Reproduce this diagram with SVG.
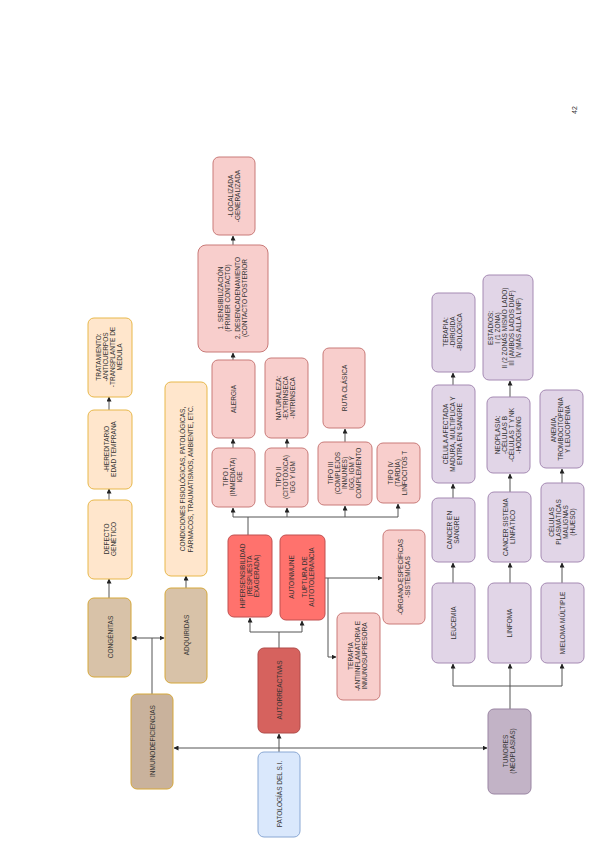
<svg xmlns="http://www.w3.org/2000/svg" width="600" height="848" viewBox="0 0 600 848">
<defs>
<marker id="a" viewBox="0 0 10 10" refX="9" refY="5" markerWidth="5" markerHeight="5" orient="auto"><path d="M0,0 L10,5 L0,10 z" fill="#222"/></marker>
<style>
rect{stroke-width:1}
.pe{fill:#ffe6cc;stroke:#e8b84a}
.tn{fill:#d8c2a8;stroke:#d6a83a}
.tn2{fill:#c9b29c;stroke:#d6a83a}
.pk{fill:#f8cecc;stroke:#c97a78}
.rd{fill:#ff726d;stroke:#c05050}
.dr{fill:#d6625e;stroke:#b04a48}
.bl{fill:#dae8fc;stroke:#8aa8d4}
.pu{fill:#e1d5e7;stroke:#a58ab3}
.tu{fill:#c2b3c6;stroke:#9a85a3}
text{font-family:"Liberation Sans",Arial,sans-serif;font-size:6.5px;fill:#333;text-anchor:middle}
.c path,.c polyline{fill:none;stroke:#555;stroke-width:1}
</style>
</defs>
<text transform="translate(577,110) rotate(-90)" style="font-size:7px">42</text>
<g class="c">
<path d="M109,598 V579" marker-end="url(#a)"/>
<path d="M109,500 V489" marker-end="url(#a)"/>
<path d="M109,410 V397" marker-end="url(#a)"/>
<path d="M186,588 V576" marker-end="url(#a)"/>
<path d="M152,694 V638"/>
<path d="M152,638 H132" marker-end="url(#a)"/>
<path d="M152,638 H164" marker-end="url(#a)"/>
<path d="M279,752 V734" marker-end="url(#a)"/>
<path d="M279,748 H174" marker-end="url(#a)"/>
<path d="M279,748 H487" marker-end="url(#a)"/>
<path d="M279,648 V632 H250 V618" marker-end="url(#a)"/>
<path d="M279,632 H302 V621" marker-end="url(#a)"/>
<path d="M248,535 V517"/>
<path d="M233,517 H398"/>
<path d="M233,517 V508" marker-end="url(#a)"/>
<path d="M287,517 V508" marker-end="url(#a)"/>
<path d="M345,517 V506" marker-end="url(#a)"/>
<path d="M398,517 V504" marker-end="url(#a)"/>
<path d="M233,448 V439" marker-end="url(#a)"/>
<path d="M233,360 V353" marker-end="url(#a)"/>
<path d="M233,245 V236" marker-end="url(#a)"/>
<path d="M287,448 V439" marker-end="url(#a)"/>
<path d="M345,442 V429" marker-end="url(#a)"/>
<path d="M325,578 H382" marker-end="url(#a)"/>
<path d="M328,578 V657 H336" marker-end="url(#a)"/>
<path d="M510,709 V664" marker-end="url(#a)"/>
<path d="M510,686 H453 V664" marker-end="url(#a)"/>
<path d="M510,686 H562 V664" marker-end="url(#a)"/>
<path d="M453,583 V563" marker-end="url(#a)"/>
<path d="M453,498 V484" marker-end="url(#a)"/>
<path d="M453,385 V373" marker-end="url(#a)"/>
<path d="M510,583 V563" marker-end="url(#a)"/>
<path d="M510,492 V474" marker-end="url(#a)"/>
<path d="M510,397 V381" marker-end="url(#a)"/>
<path d="M562,583 V563" marker-end="url(#a)"/>
<path d="M562,483 V469" marker-end="url(#a)"/>
</g>
<g id="tratamiento"><rect class="pe" x="88" y="318" width="44" height="79" rx="6"/><text transform="translate(110,357) rotate(-90)"><tspan x="0" dy="-9">TRATAMIENTO:</tspan><tspan x="0" dy="7">-ANTICUERPOS</tspan><tspan x="0" dy="7">-TRANSPLANTE DE</tspan><tspan x="0" dy="7">MÉDULA</tspan></text></g>
<g id="hereditario"><rect class="pe" x="88" y="410" width="44" height="79" rx="6"/><text transform="translate(110,449) rotate(-90)"><tspan x="0" dy="-1">-HEREDITARIO</tspan><tspan x="0" dy="7">EDAD TEMPRANA</tspan></text></g>
<g id="defecto"><rect class="pe" x="88" y="500" width="44" height="79" rx="6"/><text transform="translate(110,539) rotate(-90)"><tspan x="0" dy="-1">DEFECTO</tspan><tspan x="0" dy="7">GENÉTICO</tspan></text></g>
<g id="congenitas"><rect class="tn" x="88" y="598" width="43" height="79" rx="6"/><text transform="translate(110,637) rotate(-90)" dy="2.5">CONGÉNITAS</text></g>
<g id="condiciones"><rect class="pe" x="165" y="382" width="42" height="194" rx="6"/><text transform="translate(186,479) rotate(-90)"><tspan x="0" dy="-1.5">CONDICIONES FISIOLÓGICAS, PATOLÓGICAS,</tspan><tspan x="0" dy="8">FÁRMACOS, TRAUMATISMOS, AMBIENTE, ETC.</tspan></text></g>
<g id="adquiridas"><rect class="tn" x="165" y="588" width="42" height="95" rx="6"/><text transform="translate(186,635) rotate(-90)" dy="2.5">ADQUIRIDAS</text></g>
<g id="inmunodef"><rect class="tn2" x="131" y="694" width="42" height="95" rx="6"/><text transform="translate(152,741) rotate(-90)" dy="2.5">INMUNODEFICIENCIAS</text></g>
<g id="autorreactivas"><rect class="dr" x="258" y="648" width="42" height="85" rx="6"/><text transform="translate(279,690) rotate(-90)" dy="2.5">AUTORREACTIVAS</text></g>
<g id="patologias"><rect class="bl" x="258" y="752" width="42" height="85" rx="6"/><text transform="translate(279,794) rotate(-90)" dy="2.5">PATOLOGÍAS DEL S.I.</text></g>
<g id="hiper"><rect class="rd" x="228" y="535" width="44" height="82" rx="6"/><text transform="translate(250,576) rotate(-90)"><tspan x="0" dy="-5">HIPERSENSIBILIDAD</tspan><tspan x="0" dy="7">(RESPUESTA</tspan><tspan x="0" dy="7">EXAGERADA)</tspan></text></g>
<g id="autoinmune"><rect class="rd" x="280" y="535" width="45" height="85" rx="6"/><text transform="translate(302,577) rotate(-90)"><tspan x="0" dy="-8">AUTOINMUNE</tspan><tspan x="0" dy="13">TUPTURA DE</tspan><tspan x="0" dy="7">AUTOTOLERANCIA</tspan></text></g>
<g id="tipo1"><rect class="pk" x="212" y="448" width="43" height="59" rx="6"/><text transform="translate(233,477) rotate(-90)"><tspan x="0" dy="-5">TIPO I</tspan><tspan x="0" dy="7">(INMEDIATA)</tspan><tspan x="0" dy="7">IGE</tspan></text></g>
<g id="alergia"><rect class="pk" x="212" y="360" width="43" height="78" rx="6"/><text transform="translate(233,399) rotate(-90)" dy="2.5">ALERGIA</text></g>
<g id="sensib"><rect class="pk" x="198" y="245" width="70" height="107" rx="8"/><text transform="translate(233,298) rotate(-90)"><tspan x="0" dy="-10">1. SENSIBILIZACIÓN</tspan><tspan x="0" dy="7">(PRIMER CONTACTO)</tspan><tspan x="0" dy="10">2. DESENCADENAMIENTO</tspan><tspan x="0" dy="7">(CONTACTO POSTERIOR</tspan></text></g>
<g id="localizada"><rect class="pk" x="213" y="157" width="42" height="78" rx="6"/><text transform="translate(234,196) rotate(-90)"><tspan x="0" dy="-1">-LOCALIZADA</tspan><tspan x="0" dy="7">-GENERALIZADA</tspan></text></g>
<g id="tipo2"><rect class="pk" x="265" y="448" width="43" height="59" rx="6"/><text transform="translate(286,477) rotate(-90)"><tspan x="0" dy="-5">TIPO II</tspan><tspan x="0" dy="7">(CITOTÓXICA)</tspan><tspan x="0" dy="7">IGG Y IGM</tspan></text></g>
<g id="naturaleza"><rect class="pk" x="265" y="358" width="43" height="80" rx="6"/><text transform="translate(286,398) rotate(-90)"><tspan x="0" dy="-5">NATURALEZA:</tspan><tspan x="0" dy="7">-EXTRÍNSECA</tspan><tspan x="0" dy="7">-INTRÍNSECA</tspan></text></g>
<g id="tipo3"><rect class="pk" x="318" y="442" width="54" height="63" rx="6"/><text transform="translate(345,473) rotate(-90)"><tspan x="0" dy="-12">TIPO III</tspan><tspan x="0" dy="7">(COMPLEJOS</tspan><tspan x="0" dy="7">INMUNES)</tspan><tspan x="0" dy="7">IGG, IGM Y</tspan><tspan x="0" dy="7">COMPLEMENTO</tspan></text></g>
<g id="ruta"><rect class="pk" x="323" y="348" width="42" height="80" rx="6"/><text transform="translate(344,388) rotate(-90)" dy="2.5">RUTA CLÁSICA</text></g>
<g id="tipo4"><rect class="pk" x="377" y="443" width="43" height="60" rx="6"/><text transform="translate(398,473) rotate(-90)"><tspan x="0" dy="-5">TIPO IV</tspan><tspan x="0" dy="7">(TARDÍA)</tspan><tspan x="0" dy="7">LINFOCITOS T</tspan></text></g>
<g id="terapia"><rect class="pk" x="337" y="613" width="43" height="87" rx="6"/><text transform="translate(358,656) rotate(-90)"><tspan x="0" dy="-5">TERAPIA</tspan><tspan x="0" dy="7">-ANTIINFLAMATORIA E</tspan><tspan x="0" dy="7">INMUNOSUPRESORA</tspan></text></g>
<g id="organo"><rect class="pk" x="383" y="530" width="42" height="94" rx="6"/><text transform="translate(404,577) rotate(-90)"><tspan x="0" dy="-1">-ÓRGANO-ESPECÍFICAS</tspan><tspan x="0" dy="7">-SISTÉMICAS</tspan></text></g>
<g id="leucemia"><rect class="pu" x="432" y="583" width="43" height="80" rx="6"/><text transform="translate(453,623) rotate(-90)" dy="2.5">LEUCEMIA</text></g>
<g id="cancersangre"><rect class="pu" x="432" y="498" width="43" height="64" rx="6"/><text transform="translate(453,530) rotate(-90)"><tspan x="0" dy="-1">CANCER EN</tspan><tspan x="0" dy="7">SANGRE</tspan></text></g>
<g id="celula"><rect class="pu" x="432" y="385" width="43" height="98" rx="6"/><text transform="translate(453,434) rotate(-90)"><tspan x="0" dy="-5">CÉLULA AFECTADA</tspan><tspan x="0" dy="7">MADURA, MULTIPLICA Y</tspan><tspan x="0" dy="7">ENTRA EN SANGRE</tspan></text></g>
<g id="terapiadir"><rect class="pu" x="432" y="293" width="43" height="79" rx="6"/><text transform="translate(453,332) rotate(-90)"><tspan x="0" dy="-5">TERAPIA:</tspan><tspan x="0" dy="7">-DIRIGIDA</tspan><tspan x="0" dy="7">-BIOLÓGICA</tspan></text></g>
<g id="linfoma"><rect class="pu" x="488" y="583" width="43" height="80" rx="6"/><text transform="translate(509,623) rotate(-90)" dy="2.5">LINFOMA</text></g>
<g id="cancerlinf"><rect class="pu" x="488" y="492" width="43" height="70" rx="6"/><text transform="translate(509,527) rotate(-90)"><tspan x="0" dy="-1">CANCER SISTEMA</tspan><tspan x="0" dy="7">LINFÁTICO</tspan></text></g>
<g id="neoplasia"><rect class="pu" x="487" y="397" width="43" height="76" rx="6"/><text transform="translate(508,435) rotate(-90)"><tspan x="0" dy="-8">NEOPLASIA:</tspan><tspan x="0" dy="7">-CÉLULAS B</tspan><tspan x="0" dy="7">-CÉLULAS T Y NK</tspan><tspan x="0" dy="7">-HODGKING</tspan></text></g>
<g id="estadios"><rect class="pu" x="483" y="275" width="50" height="105" rx="6"/><text transform="translate(508,328) rotate(-90)"><tspan x="0" dy="-15">ESTADIOS:</tspan><tspan x="0" dy="7">I (1 ZONA)</tspan><tspan x="0" dy="7">II (2 ZONAS MISMO LADO)</tspan><tspan x="0" dy="7">III (AMBOS LADOS DIAF)</tspan><tspan x="0" dy="7">IV (MÁS ALLÁ LINF)</tspan></text></g>
<g id="mieloma"><rect class="pu" x="541" y="583" width="43" height="80" rx="6"/><text transform="translate(562,623) rotate(-90)" dy="2.5">MIELOMA MÚLTIPLE</text></g>
<g id="plasmaticas"><rect class="pu" x="541" y="483" width="43" height="79" rx="6"/><text transform="translate(562,522) rotate(-90)"><tspan x="0" dy="-8">CÉLULAS</tspan><tspan x="0" dy="7">PLASMÁTICAS</tspan><tspan x="0" dy="7">MALIGNAS</tspan><tspan x="0" dy="7">(HUESO)</tspan></text></g>
<g id="anemia"><rect class="pu" x="540" y="390" width="43" height="78" rx="6"/><text transform="translate(561,429) rotate(-90)"><tspan x="0" dy="-5">ANEMIA,</tspan><tspan x="0" dy="7">TROMBOCITOPENIA</tspan><tspan x="0" dy="7">Y LEUCOPENIA</tspan></text></g>
<g id="tumores"><rect class="tu" x="488" y="709" width="43" height="85" rx="6"/><text transform="translate(509,751) rotate(-90)"><tspan x="0" dy="-1">TUMORES</tspan><tspan x="0" dy="7">(NEOPLASIAS)</tspan></text></g>
</svg>
